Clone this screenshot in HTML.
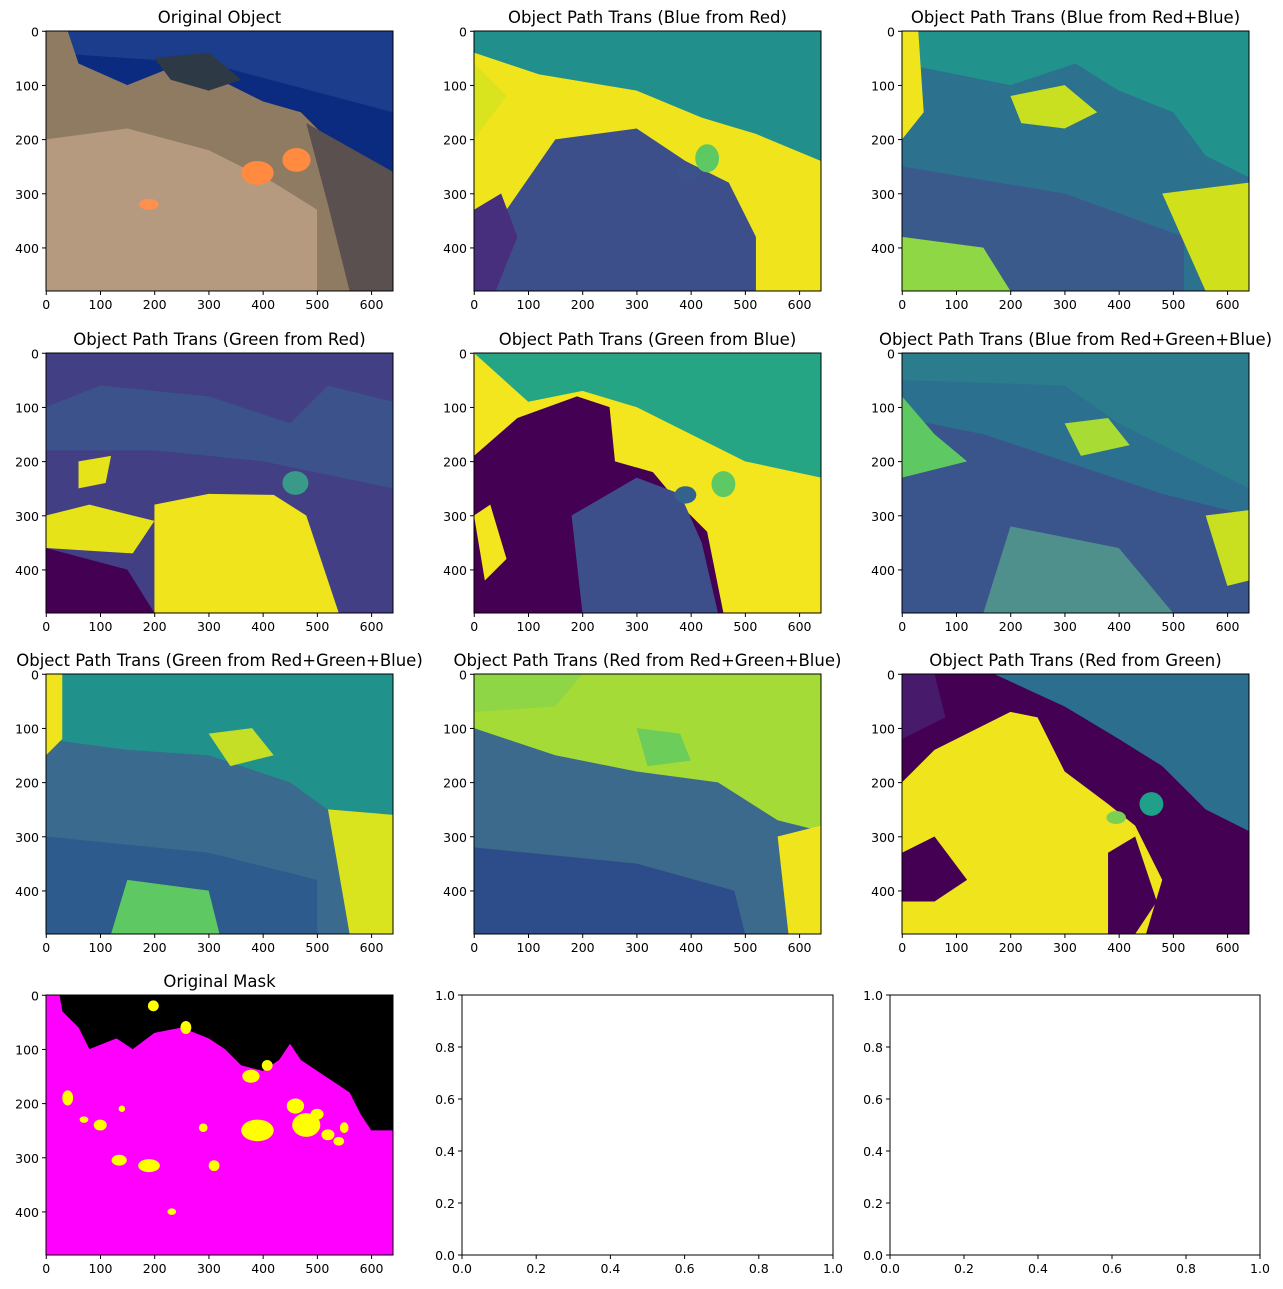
<!DOCTYPE html>
<html><head><meta charset="utf-8">
<style>
html,body{margin:0;padding:0;background:#fff;}
svg{display:block;font-family:"DejaVu Sans","Liberation Sans",sans-serif;}
</style></head>
<body>
<svg id="fig" width="1283" height="1289" viewBox="0 0 1283 1289"></svg>
<script>
const NS="http://www.w3.org/2000/svg";
const fig=document.getElementById('fig');
const xTicks=[0,100,200,300,400,500,600];
const yTicks=[0,100,200,300,400];
const unitTicks=[0.0,0.2,0.4,0.6,0.8,1.0];
const titles=["Original Object","Object Path Trans (Blue from Red)","Object Path Trans (Blue from Red+Blue)",
"Object Path Trans (Green from Red)","Object Path Trans (Green from Blue)","Object Path Trans (Blue from Red+Green+Blue)",
"Object Path Trans (Green from Red+Green+Blue)","Object Path Trans (Red from Red+Green+Blue)","Object Path Trans (Red from Green)",
"Original Mask"];
const colX=[46,474,902], rowY=[31,353,674,995];
const W=347,H=260;
const layers=[
 {bg:"#0b2b80",shapes:[["#1c3c8c","0,0 640,0 640,150 300,60 0,40"],["#8f7a62","0,0 40,0 60,60 150,100 250,60 320,90 400,130 470,150 520,200 560,250 640,260 640,480 0,480"],["#b59a80","0,200 150,180 300,220 420,280 500,330 500,480 0,480"],["#5a5050","480,170 640,260 640,480 560,480 520,320"],["#2d3a45","200,50 300,40 360,90 300,110 230,90"],["e","#ff8a40",390,262,30,22],["e","#ff8a40",462,238,26,22],["e","#ff9050",190,320,18,10]]},
 {bg:"#21908d",shapes:[["#f0e51c","0,40 120,80 300,110 420,160 520,190 640,240 640,480 0,480"],["#d9e41f","0,60 60,120 0,200"],["#3c4f8a","40,480 60,330 150,200 300,180 390,240 470,280 520,380 520,480"],["#472f7d","0,330 50,300 80,380 40,480 0,480"],["e","#5ec962",430,235,22,26],["e","#3b528b",395,265,20,14]]},
 {bg:"#22928c",shapes:[["#2c728e","0,60 200,100 320,60 400,110 500,150 560,230 640,270 640,480 0,480"],["#3b5a8c","0,250 300,300 520,380 520,480 0,480"],["#f0e51c","0,0 30,0 40,150 0,200"],["#c8e020","200,120 300,100 360,150 300,180 220,170"],["#d0e11c","480,300 640,280 640,480 560,480"],["#8fd744","0,380 150,400 200,480 0,480"]]},
 {bg:"#423f85",shapes:[["#3b528b","100,60 300,80 450,130 520,60 640,90 640,250 400,200 200,180 0,180 0,100"],["#440154","0,360 150,400 200,480 0,480"],["#f0e51c","200,480 200,280 300,260 420,262 480,300 540,480"],["#e6e419","0,300 80,280 200,310 160,370 0,360"],["#e6e419","60,200 120,190 110,240 60,250"],["e","#3a9a8a",460,240,24,22]]},
 {bg:"#25a584",shapes:[["#f3e51e","0,0 100,90 200,70 300,100 400,150 500,200 640,230 640,480 0,480"],["#440154","0,190 80,120 190,80 250,100 260,200 330,220 380,280 430,330 460,480 0,480"],["#3c4f8a","180,300 300,230 380,260 420,350 450,480 200,480"],["#f3e51e","0,300 30,280 60,380 20,420"],["e","#33638d",390,262,20,16],["e","#5ec962",460,242,22,24]]},
 {bg:"#2b708e",shapes:[["#2b7d8e","0,0 640,0 640,250 400,130 300,60 0,50"],["#3a548c","0,120 150,150 300,200 480,260 640,300 640,480 0,480"],["#5ec962","0,80 60,150 120,200 0,230"],["#a8db34","300,130 380,120 420,170 330,190"],["#4f8f8c","200,320 400,360 500,480 150,480"],["#c8e020","560,300 640,290 640,420 600,430"]]},
 {bg:"#21918c",shapes:[["#3a6a8d","0,120 150,140 300,150 450,200 560,280 640,300 640,480 0,480"],["#2e5b8d","0,300 300,330 500,380 500,480 0,480"],["#f0e51c","0,0 30,0 30,120 0,150"],["#d9e41f","520,250 640,260 640,480 560,480"],["#c5df26","300,110 380,100 420,150 340,170"],["#5ec962","150,380 300,400 320,480 120,480"]]},
 {bg:"#a5db36",shapes:[["#8ed645","0,0 200,0 150,60 0,70"],["#3b6a8c","0,100 150,150 300,180 450,200 560,270 640,290 640,480 0,480"],["#2c4d8a","0,320 300,350 480,400 500,480 0,480"],["#f0e51c","560,300 640,280 640,480 580,480"],["#6ccd5a","300,100 380,110 400,160 320,170"]]},
 {bg:"#2b6e8e",shapes:[["#440154","0,0 170,0 300,60 400,120 480,170 560,250 640,290 640,480 0,480"],["#481a6c","0,0 60,0 80,80 0,120"],["#f0e51c","0,200 60,140 200,70 250,80 300,180 380,240 430,280 480,380 450,480 0,480"],["#440154","0,330 60,300 120,380 60,420 0,420"],["#440154","380,330 430,300 470,420 430,480 380,480"],["e","#1fa088",460,240,22,22],["e","#7ad151",395,265,18,12]]},
 {bg:"#ff00ff",shapes:[["#000000","25,0 640,0 640,250 600,250 580,220 560,180 500,140 470,120 450,90 430,120 400,140 360,130 330,100 300,80 250,60 200,70 160,100 130,80 80,100 60,60 30,30"],
  ["e","#ffff00",198,20,10,10],["e","#ffff00",258,60,10,12],["e","#ffff00",378,150,16,12],["e","#ffff00",408,130,10,10],["e","#ffff00",40,190,10,14],["e","#ffff00",70,230,8,6],["e","#ffff00",100,240,12,10],["e","#ffff00",140,210,6,6],["e","#ffff00",290,245,8,8],["e","#ffff00",390,250,30,20],["e","#ffff00",480,240,26,22],["e","#ffff00",460,205,16,14],["e","#ffff00",500,220,12,10],["e","#ffff00",520,258,12,10],["e","#ffff00",550,245,8,10],["e","#ffff00",135,305,14,10],["e","#ffff00",190,315,20,12],["e","#ffff00",310,315,10,10],["e","#ffff00",232,400,8,6],["e","#ffff00",540,270,10,8]]}
];
function el(tag,attrs,parent){const e=document.createElementNS(NS,tag);for(const k in attrs)e.setAttribute(k,attrs[k]);(parent||fig).appendChild(e);return e;}
function txt(x,y,s,size,anchor,parent){const t=el('text',{x:x,y:y,'font-size':size,'text-anchor':anchor,fill:'#000'},parent);t.textContent=s;return t;}

for(let i=0;i<10;i++){
  const x0=colX[i%3], y0=rowY[Math.floor(i/3)];
  const g=el('g',{});
  
  
  const inner=el('svg',{x:x0,y:y0,width:W,height:H,viewBox:"0 0 640 480",preserveAspectRatio:"none"},g);
  el('rect',{x:0,y:0,width:640,height:480,fill:layers[i].bg},inner);
  for(const s of layers[i].shapes){
    if(s[0]==="e") el('ellipse',{fill:s[1],cx:s[2],cy:s[3],rx:s[4],ry:s[5]},inner);
    else el('polygon',{fill:s[0],points:s[1]},inner);
  }
  el('rect',{x:x0,y:y0,width:W,height:H,fill:'none',stroke:'#000','stroke-width':1},g);
  const sx=v=>x0+(v+0.5)*W/640, sy=v=>y0+(v+0.5)*H/480;
  for(const v of xTicks){const X=sx(v);el('line',{x1:X,x2:X,y1:y0+H,y2:y0+H+4,stroke:'#000'},g);txt(X,y0+H+18,String(v),12.5,'middle',g);}
  for(const v of yTicks){const Y=sy(v);el('line',{x1:x0-4,x2:x0,y1:Y,y2:Y,stroke:'#000'},g);txt(x0-7,Y+5,String(v),12.5,'end',g);}
  const t=txt(x0+W/2,y0-8,titles[i],16.5,'middle',g);
  
  
}
[[462,833],[890,1260]].forEach((c,j)=>{
  const x0=c[0],w=c[1]-c[0],y0=995,h=260;
  const g=el('g',{});
  
  
  el('rect',{x:x0,y:y0,width:w,height:h,fill:'#fff',stroke:'#000','stroke-width':1},g);
  for(const v of unitTicks){
    const X=x0+v*w, Y=y0+h-v*h;
    el('line',{x1:X,x2:X,y1:y0+h,y2:y0+h+4,stroke:'#000'},g);txt(X,y0+h+18,v.toFixed(1),12.5,'middle',g);
    el('line',{x1:x0-4,x2:x0,y1:Y,y2:Y,stroke:'#000'},g);txt(x0-7,Y+5,v.toFixed(1),12.5,'end',g);
  }
});
</script>
</body></html>
